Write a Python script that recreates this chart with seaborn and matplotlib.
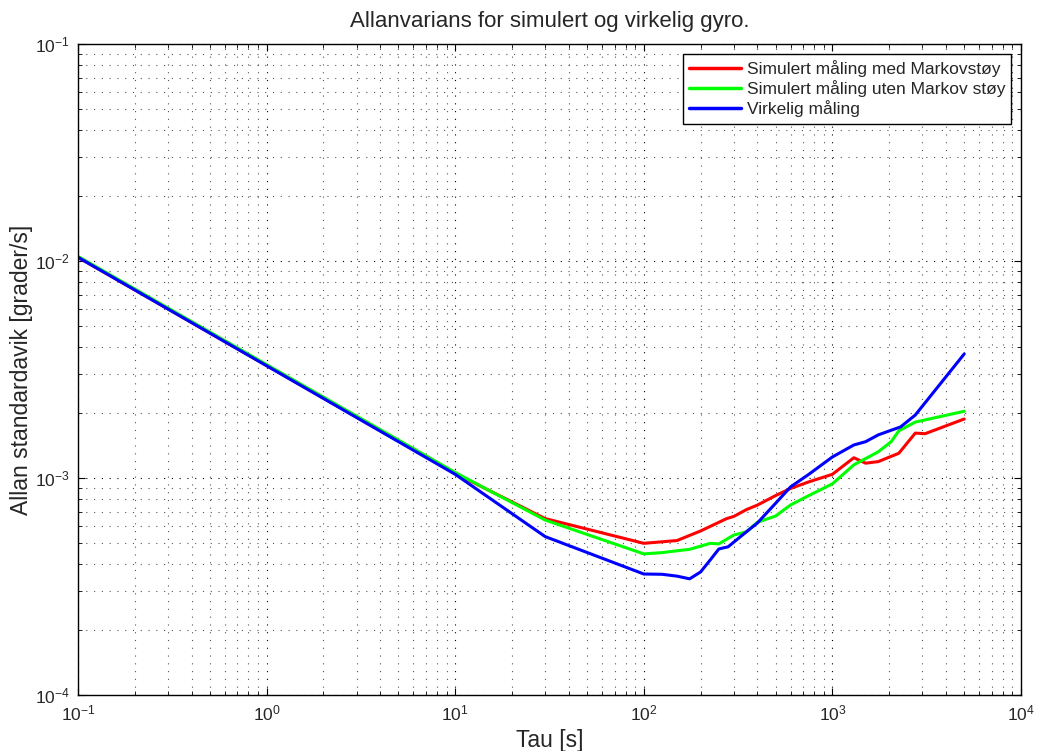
import numpy as np
import pandas as pd
import matplotlib
matplotlib.use("Agg")
import matplotlib.pyplot as plt
import seaborn as sns
from matplotlib.ticker import LogLocator, NullFormatter

# ---- data ----
tau_red = [0.1, 1, 10, 30, 100, 150, 200, 275, 300, 350, 400, 500, 600, 750,
           1000, 1300, 1500, 1750, 2250, 2750, 3100, 5000]
adev_red = [0.0104, 0.0033, 1.05e-3, 6.5e-4, 5.0e-4, 5.15e-4, 5.7e-4, 6.5e-4,
            6.65e-4, 7.15e-4, 7.5e-4, 8.3e-4, 8.95e-4, 9.6e-4, 1.04e-3, 1.24e-3,
            1.17e-3, 1.19e-3, 1.30e-3, 1.61e-3, 1.60e-3, 1.87e-3]

tau_green = [0.1, 1, 10, 30, 100, 125, 150, 175, 225, 250, 300, 350, 400, 500,
             600, 750, 1000, 1300, 1750, 2050, 2250, 2750, 5000]
adev_green = [0.0105, 0.00333, 1.06e-3, 6.4e-4, 4.47e-4, 4.53e-4, 4.62e-4, 4.69e-4,
              5.0e-4, 4.97e-4, 5.46e-4, 5.65e-4, 6.25e-4, 6.68e-4, 7.51e-4, 8.3e-4,
              9.4e-4, 1.15e-3, 1.32e-3, 1.47e-3, 1.65e-3, 1.81e-3, 2.03e-3]

tau_blue = [0.1, 1, 10, 30, 100, 125, 150, 175, 200, 225, 250, 280, 350, 400,
            500, 600, 750, 1000, 1300, 1500, 1750, 2050, 2300, 2750, 5000]
adev_blue = [0.0104, 0.00329, 1.04e-3, 5.37e-4, 3.61e-4, 3.60e-4, 3.53e-4, 3.43e-4,
             3.69e-4, 4.19e-4, 4.71e-4, 4.82e-4, 5.65e-4, 6.2e-4, 7.65e-4, 9.1e-4,
             1.04e-3, 1.25e-3, 1.42e-3, 1.47e-3, 1.58e-3, 1.66e-3, 1.72e-3, 1.95e-3,
             3.73e-3]

labels = ["Simulert måling med Markovstøy",
          "Simulert måling uten Markov støy",
          "Virkelig måling"]
colors = ["#ff0000", "#00ff00", "#0000ff"]

title = "Allanvarians for simulert og virkelig gyro."
xlabel = "Tau [s]"
ylabel = "Allan standardavik [grader/s]"

df = pd.concat([
    pd.DataFrame({"tau": tau_red, "adev": adev_red, "serie": labels[0]}),
    pd.DataFrame({"tau": tau_green, "adev": adev_green, "serie": labels[1]}),
    pd.DataFrame({"tau": tau_blue, "adev": adev_blue, "serie": labels[2]}),
], ignore_index=True)

sns.set_style("white")
plt.rcParams["font.family"] = ["Liberation Sans", "DejaVu Sans"]
plt.rcParams["mathtext.fontset"] = "custom"
plt.rcParams["mathtext.rm"] = "Liberation Sans"
plt.rcParams["mathtext.it"] = "Liberation Sans"
plt.rcParams["mathtext.default"] = "regular"

fig = plt.figure(figsize=(10.41, 7.51), dpi=100)
ax = fig.add_axes([78 / 1041, 1 - 695 / 751, (1021 - 78) / 1041, (695 - 44) / 751])

sns.lineplot(data=df, x="tau", y="adev", hue="serie", hue_order=labels,
             palette=dict(zip(labels, colors)), estimator=None, sort=False,
             linewidth=2.2, ax=ax)

ax.set_xscale("log")
ax.set_yscale("log")
ax.set_xlim(0.1, 1e4)
ax.set_ylim(1e-4, 1e-1)

ax.xaxis.set_major_locator(LogLocator(base=10, numticks=20))
ax.yaxis.set_major_locator(LogLocator(base=10, numticks=20))
ax.xaxis.set_minor_locator(LogLocator(base=10, subs=np.arange(2, 10), numticks=50))
ax.yaxis.set_minor_locator(LogLocator(base=10, subs=np.arange(2, 10), numticks=50))
ax.xaxis.set_minor_formatter(NullFormatter())
ax.yaxis.set_minor_formatter(NullFormatter())

ax.grid(True, which="major", linestyle=(0, (1, 6)), color="black", linewidth=0.8)
ax.grid(True, which="minor", linestyle=(0, (1, 6)), color="#555555", linewidth=0.8)

ax.tick_params(which="both", direction="in", top=True, right=True,
               bottom=True, left=True, color="black")
ax.tick_params(which="major", length=5, width=0.8, labelsize=12.5, pad=6)
ax.tick_params(which="minor", length=3, width=0.6)
for s in ax.spines.values():
    s.set_visible(True)
    s.set_color("black")
    s.set_linewidth(1.0)

ax.set_title(title, fontsize=16, pad=12)
ax.set_xlabel(xlabel, fontsize=16.5, labelpad=4)
ax.set_ylabel(ylabel, fontsize=16.5, labelpad=1)

leg = ax.legend(loc="upper right", fontsize=12.5, frameon=True, fancybox=False,
                edgecolor="black", framealpha=1, handlelength=3.0,
                borderaxespad=0.55, labelspacing=0.2, borderpad=0.35,
                handletextpad=0.35)
leg.get_frame().set_linewidth(1.0)
for line in leg.get_lines():
    line.set_linewidth(2.5)

fig.savefig("out.png", dpi=100, facecolor="white")
